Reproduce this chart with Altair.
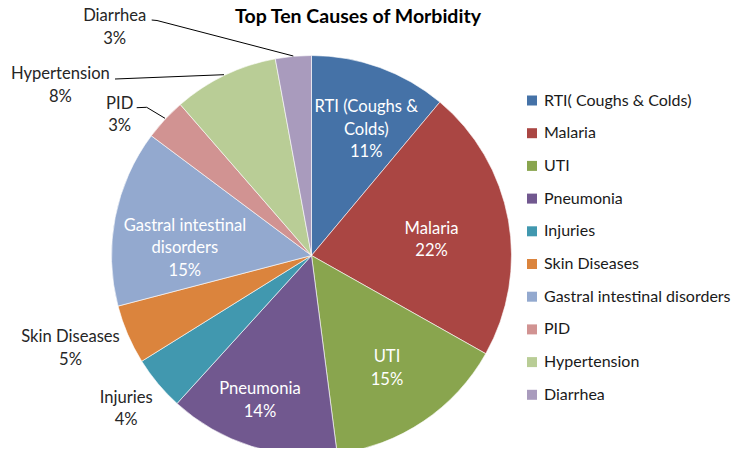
import altair as alt
import pandas as pd

# ---- data ----
categories = ["RTI( Coughs & Colds)", "Malaria", "UTI", "Pneumonia", "Injuries",
              "Skin Diseases", "Gastral intestinal disorders", "PID", "Hypertension", "Diarrhea"]
slice_names = ["RTI (Coughs &\nColds)", "Malaria", "UTI", "Pneumonia", "Injuries",
               "Skin Diseases", "Gastral intestinal\ndisorders", "PID", "Hypertension", "Diarrhea"]
values = [11.1, 22.1, 14.8, 13.8, 4.4, 4.8, 14.3, 3.4, 8.5, 2.9]
pct_labels = ["11%", "22%", "15%", "14%", "4%", "5%", "15%", "3%", "8%", "3%"]
colors = ["#4572A7", "#AA4643", "#89A54E", "#71588F", "#4198AF",
          "#DB843D", "#93A9CF", "#D19392", "#B9CD96", "#A99BBD"]
title_text = "Top Ten Causes of Morbidity"

FONT = "Lato"
CX, CY, R = 303.5, 247.5, 200
LH = 22.5

df = pd.DataFrame({
    "cat": categories,
    "value": values,
    "idx": list(range(len(categories))),
    "label": [n + "\n" + p for n, p in zip(slice_names, pct_labels)],
})

base = alt.Chart(df).encode(
    theta=alt.Theta("value:Q", stack=True),
    order=alt.Order("idx:Q"),
    x=alt.value(CX),
    y=alt.value(CY),
)

pie = base.mark_arc(outerRadius=R, stroke="white", strokeWidth=0.6).encode(
    color=alt.Color("cat:N", scale=alt.Scale(domain=categories, range=colors),
                    sort=categories,
                    legend=alt.Legend(title=None, orient="none", legendX=516, legendY=84.5,
                                      symbolType="square", symbolSize=100,
                                      symbolStrokeWidth=0, labelFont=FONT,
                                      labelFontSize=16, labelColor="#1a1a1a",
                                      labelLimit=400,
                                      rowPadding=16.7, labelOffset=4, padding=0))
)

# label styling per slice: (radius, dx, dy, colour) -- dy refers to block centre
label_style = {
    0: (137, 8, 3, "white"),
    1: (121, 1, 6, "white"),
    2: (135, 0, 1, "white"),
    3: (152, -6, 0, "white"),
    4: (240, -1, 0, "#262626"),
    5: (258, -4, -9, "#262626"),
    6: (127, -2, 17, "white"),
    7: (240, -16, 23, "#262626"),
    8: (240, -147, 46, "#262626"),
    9: (240, -175, 11, "#262626"),
}

label_layers = []
for i, (r, dx, dy, col) in label_style.items():
    nlines = df["label"][i].count("\n") + 1
    lay = base.transform_calculate(
        t=f"datum.idx == {i} ? datum.label : ''"
    ).mark_text(radius=r, dx=dx, dy=dy - (nlines - 1) * LH / 2, color=col, font=FONT,
                fontSize=16.6, lineBreak="\n", lineHeight=LH,
                align="center", baseline="middle").encode(
        text="t:N"
    )
    label_layers.append(lay)

# leader lines (page coords minus 8px margin)
one = pd.DataFrame({"a": [0]})
segments = [
    (143.7, 12.0, 149.0, 12.5),
    (149.0, 12.5, 285.3, 48.0),
    (107.0, 71.0, 216.0, 66.7),
    (128.7, 99.7, 138.7, 99.3),
    (138.7, 99.3, 157.0, 110.3),
]
rules = [
    alt.Chart(one).mark_rule(color="black", strokeWidth=1).encode(
        x=alt.value(x1), y=alt.value(y1), x2=alt.value(x2), y2=alt.value(y2))
    for (x1, y1, x2, y2) in segments
]

title = alt.Chart(pd.DataFrame({"t": [title_text]})).mark_text(
    font=FONT, fontSize=19.5, fontWeight="bold", color="black",
    align="center", baseline="alphabetic"
).encode(x=alt.value(350), y=alt.value(15), text="t:N")

chart = alt.layer(pie, *label_layers, *rules, title).properties(
    width=728, height=440, padding=0,
    autosize=alt.AutoSizeParams(type="none"),
).configure_view(stroke=None)

chart.save("out.html", embed_options={"renderer": "svg", "actions": False})
